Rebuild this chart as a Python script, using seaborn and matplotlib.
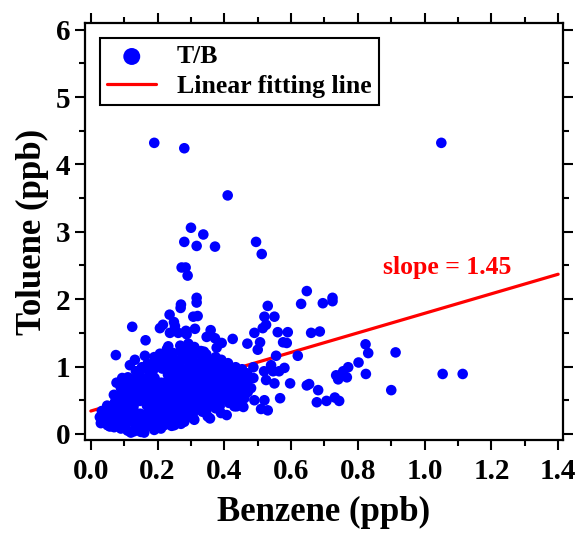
"""
Toluene vs benzene scatter with linear fitting line (T/B ratio).
"""

import numpy as np
import pandas as pd
import matplotlib
matplotlib.use('Agg')
import matplotlib.pyplot as plt
from matplotlib.ticker import MultipleLocator
import seaborn as sns

# dense core of the cloud, (benzene, toluene) in ppb
core_pts = [
    (0.030, 0.16), (0.027, 0.25), (0.033, 0.34),
    (0.050, 0.13), (0.047, 0.22), (0.053, 0.31), (0.049, 0.42),
    (0.070, 0.10), (0.066, 0.19), (0.073, 0.29), (0.068, 0.38), (0.072, 0.47), (0.069, 0.58),
    (0.090, 0.08), (0.094, 0.17), (0.087, 0.27), (0.092, 0.36), (0.088, 0.46), (0.093, 0.57), (0.090, 0.68),
    (0.110, 0.05), (0.106, 0.15), (0.113, 0.24), (0.108, 0.34), (0.112, 0.43), (0.107, 0.53),
    (0.114, 0.63), (0.109, 0.74), (0.111, 0.84),
    (0.130, 0.04), (0.134, 0.13), (0.127, 0.22), (0.132, 0.32), (0.128, 0.41), (0.133, 0.51),
    (0.129, 0.61), (0.131, 0.70), (0.126, 0.80), (0.135, 0.93),
    (0.150, 0.03), (0.146, 0.12), (0.153, 0.21), (0.148, 0.30), (0.147, 0.49),
    (0.154, 0.59), (0.149, 0.69), (0.151, 0.78), (0.146, 0.88), (0.153, 0.99),
    (0.174, 0.13), (0.167, 0.23), (0.172, 0.32), (0.168, 0.42), (0.173, 0.51),
    (0.169, 0.61), (0.171, 0.71), (0.166, 0.82), (0.174, 0.93), (0.170, 1.04),
    (0.190, 0.06), (0.186, 0.15), (0.193, 0.25), (0.188, 0.34), (0.192, 0.44), (0.187, 0.54),
    (0.194, 0.63), (0.189, 0.73), (0.191, 0.83), (0.186, 0.94), (0.193, 1.04), (0.190, 1.14),
    (0.210, 0.08), (0.214, 0.18), (0.207, 0.27), (0.212, 0.37), (0.208, 0.46), (0.213, 0.56),
    (0.209, 0.66), (0.211, 0.76), (0.214, 0.97), (0.210, 1.08), (0.207, 1.19),
    (0.226, 0.20), (0.233, 0.30), (0.228, 0.39), (0.232, 0.49), (0.227, 0.58),
    (0.234, 0.68), (0.229, 0.78), (0.231, 0.88), (0.226, 0.98), (0.233, 1.08), (0.230, 1.17),
    (0.228, 1.26),
    (0.250, 0.13), (0.254, 0.22), (0.247, 0.32), (0.252, 0.41), (0.248, 0.51), (0.253, 0.61),
    (0.249, 0.70), (0.251, 0.80), (0.246, 0.90), (0.254, 1.00), (0.250, 1.10), (0.247, 1.20),
    (0.270, 0.15), (0.266, 0.25), (0.273, 0.35), (0.268, 0.44), (0.272, 0.54), (0.267, 0.63),
    (0.274, 0.73), (0.269, 0.83), (0.271, 0.93), (0.266, 1.03), (0.273, 1.12), (0.270, 1.22),
    (0.268, 1.31),
    (0.294, 0.28), (0.287, 0.38), (0.292, 0.47), (0.288, 0.57), (0.293, 0.66),
    (0.289, 0.76), (0.291, 0.86), (0.286, 0.96), (0.294, 1.06), (0.290, 1.16), (0.287, 1.25),
    (0.292, 1.34),
    (0.310, 0.21), (0.306, 0.31), (0.313, 0.40), (0.308, 0.50), (0.312, 0.59), (0.307, 0.69),
    (0.314, 0.79), (0.309, 0.89), (0.311, 0.99), (0.306, 1.09), (0.313, 1.19), (0.310, 1.29),
    (0.334, 0.33), (0.327, 0.43), (0.332, 0.52), (0.328, 0.62), (0.333, 0.72),
    (0.329, 0.82), (0.331, 0.92), (0.326, 1.02), (0.334, 1.12), (0.330, 1.23),
    (0.350, 0.26), (0.346, 0.35), (0.353, 0.45), (0.348, 0.55), (0.352, 0.65), (0.347, 0.75),
    (0.354, 0.85), (0.349, 0.95), (0.351, 1.05), (0.346, 1.18),
    (0.374, 0.38), (0.367, 0.48), (0.372, 0.58), (0.368, 0.68), (0.373, 0.78),
    (0.369, 0.88), (0.371, 0.98), (0.366, 1.08), (0.374, 1.14),
    (0.390, 0.31), (0.386, 0.41), (0.393, 0.51), (0.388, 0.61), (0.392, 0.71), (0.387, 0.81),
    (0.394, 0.91), (0.389, 1.01), (0.391, 1.10),
    (0.414, 0.46), (0.407, 0.56), (0.412, 0.66), (0.408, 0.76), (0.413, 0.86),
    (0.409, 0.96), (0.411, 1.05),
    (0.430, 0.41), (0.426, 0.51), (0.433, 0.61), (0.428, 0.71), (0.432, 0.81), (0.427, 0.91),
    (0.434, 0.99),
    (0.450, 0.50), (0.454, 0.60), (0.447, 0.70), (0.452, 0.80), (0.448, 0.90), (0.453, 0.96),
    (0.470, 0.62), (0.466, 0.72), (0.473, 0.82), (0.468, 0.90),
]

# scattered points around the core (left / low side)
edge_pts = [
    (0.075, 1.17), (0.124, 1.59), (0.164, 1.39), (0.207, 1.57), (0.216, 1.62), (0.236, 1.77),
    (0.269, 1.87), (0.249, 1.66), (0.252, 1.60), (0.132, 1.10), (0.162, 1.16), (0.117, 1.02),
    (0.077, 0.76), (0.094, 0.83), (0.082, 0.55), (0.032, 0.23), (0.057, 0.11), (0.120, 0.02),
    (0.160, 0.02), (0.152, 0.07), (0.177, 0.16), (0.220, 0.13), (0.242, 0.12), (0.280, 0.18),
    (0.307, 1.74), (0.320, 1.75), (0.285, 1.53), (0.312, 1.56), (0.237, 1.50), (0.262, 1.50),
    (0.287, 1.48), (0.359, 1.54), (0.347, 1.44), (0.372, 1.42), (0.392, 1.35), (0.425, 1.41),
    (0.232, 1.30), (0.377, 1.28), (0.339, 1.22), (0.307, 0.23), (0.357, 0.23), (0.407, 0.28),
    (0.437, 0.41), (0.457, 0.40), (0.510, 0.37), (0.530, 0.35),
]

# middle group between 0.45 and 0.62 ppb benzene
mid_pts = [
    (0.520, 1.74), (0.550, 1.74), (0.525, 1.62), (0.515, 1.57), (0.490, 1.50), (0.560, 1.51),
    (0.590, 1.51), (0.576, 1.36), (0.587, 1.35), (0.507, 1.36), (0.469, 1.34), (0.500, 1.25),
    (0.555, 1.16), (0.540, 1.02), (0.580, 0.98), (0.546, 0.93), (0.564, 0.93), (0.519, 0.93),
    (0.487, 0.99), (0.487, 0.83), (0.525, 0.80), (0.550, 0.75), (0.597, 0.75), (0.480, 0.68),
    (0.457, 0.73), (0.437, 0.65), (0.437, 0.55), (0.460, 0.53), (0.490, 0.50), (0.520, 0.50),
    (0.567, 0.53), (0.530, 1.90),
]

# high toluene outliers
upper_pts = [
    (0.190, 4.32), (0.280, 4.24), (1.050, 4.32), (0.410, 3.54), (0.300, 3.06), (0.337, 2.96),
    (0.280, 2.85), (0.317, 2.79), (0.372, 2.78), (0.495, 2.85), (0.512, 2.67), (0.272, 2.47),
    (0.284, 2.47), (0.290, 2.35), (0.317, 2.02), (0.317, 1.95), (0.270, 1.92),
]

# right-hand group
right_pts = [
    (0.647, 2.12), (0.630, 1.93), (0.695, 1.94), (0.724, 2.02), (0.724, 1.97), (0.660, 1.50),
    (0.686, 1.52), (0.620, 1.16), (0.823, 1.33), (0.831, 1.20), (0.913, 1.21), (0.802, 1.06),
    (0.771, 0.99), (0.756, 0.93), (0.735, 0.87), (0.741, 0.81), (0.767, 0.84), (0.824, 0.89),
    (0.647, 0.72), (0.654, 0.74), (0.681, 0.65), (0.900, 0.65), (0.677, 0.47), (0.706, 0.49),
    (0.731, 0.54), (0.744, 0.49), (1.054, 0.89), (1.114, 0.89),
]

# linear fitting line end points (slope 1.45)
fit_x = [0.0, 1.4]
fit_y = [0.34, 2.37]

xticks = [0.0, 0.2, 0.4, 0.6, 0.8, 1.0, 1.2, 1.4]
yticks = [0, 1, 2, 3, 4, 5, 6]


def main():
    pts = core_pts + edge_pts + mid_pts + upper_pts + right_pts
    df = pd.DataFrame(pts, columns=['benzene', 'toluene'])

    sns.set_style('ticks')
    plt.rcParams['font.family'] = ['Liberation Serif', 'DejaVu Serif']
    plt.rcParams['font.weight'] = 'bold'
    plt.rcParams['text.color'] = 'k'
    plt.rcParams['axes.labelcolor'] = 'k'

    fig = plt.figure(figsize=(5.77, 5.33), dpi=100)
    ax = fig.add_axes([0.147, 0.1745, 0.829, 0.7825])

    # fitted line sits behind the points
    sns.lineplot(x=fit_x, y=fit_y, color='#FF0000', lw=2.3,
                 label='Linear fitting line', ax=ax, zorder=1)
    sns.scatterplot(data=df, x='benzene', y='toluene', color='#0000FF', s=58,
                    edgecolor='none', label='T/B', ax=ax, zorder=2)

    ax.text(0.875, 2.47, 'slope = 1.45', color='#FF0000', fontsize=18.5,
            fontweight='bold', ha='left', va='center')

    ax.set_xlim(-0.018, 1.415)
    ax.set_ylim(-0.09, 6.1)
    ax.set_xticks(xticks)
    ax.set_xticklabels([f'{t:.1f}' for t in xticks])
    ax.set_yticks(yticks)
    ax.xaxis.set_minor_locator(MultipleLocator(0.1))
    ax.yaxis.set_minor_locator(MultipleLocator(0.5))
    ax.tick_params(which='both', direction='out', top=True, right=True,
                   width=1.5, labelsize=21, colors='k')
    ax.tick_params(which='major', length=7)
    ax.tick_params(which='minor', length=4)
    ax.tick_params(axis='x', which='major', pad=6)
    for sp in ax.spines.values():
        sp.set_linewidth(1.6)
        sp.set_color('k')

    ax.set_xlabel('Benzene (ppb)', fontsize=25, fontweight='bold', labelpad=8)
    ax.set_ylabel('Toluene (ppb)', fontsize=25, fontweight='bold', labelpad=5)

    # legend order: points first, then the line
    handles, labels = ax.get_legend_handles_labels()
    order = [labels.index('T/B'), labels.index('Linear fitting line')]
    leg = ax.legend([handles[i] for i in order], [labels[i] for i in order],
                    loc='upper left', bbox_to_anchor=(0.031, 0.965), fontsize=18.5,
                    frameon=True, fancybox=False, framealpha=1, edgecolor='k',
                    markerscale=1.6, handlelength=1.9, borderpad=0.3,
                    labelspacing=0.25, handletextpad=0.8, borderaxespad=0)
    leg.get_frame().set_linewidth(1.5)
    for t in leg.get_texts():
        t.set_color('k')

    fig.savefig('out.png', dpi=100)


if __name__ == '__main__':
    main()
